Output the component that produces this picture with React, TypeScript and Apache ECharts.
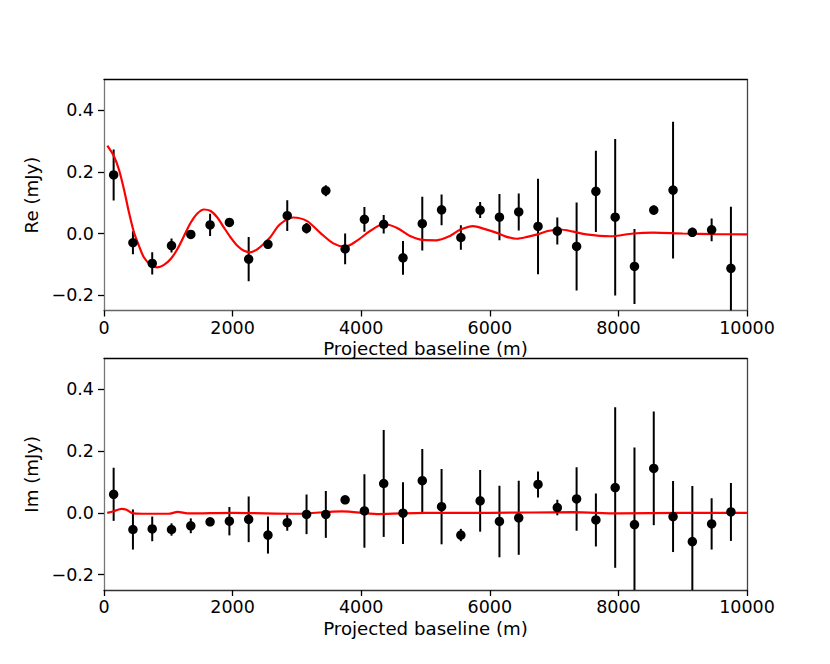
import React, { useEffect, useRef } from "react";
import * as echarts from "echarts";

const baselines = [150, 450, 750, 1050, 1350, 1650, 1950, 2250, 2550, 2850, 3150, 3450, 3750, 4050, 4350, 4650, 4950, 5250, 5550, 5850, 6150, 6450, 6750, 7050, 7350, 7650, 7950, 8250, 8550, 8850, 9150, 9450, 9750];

const reValues = [0.19, -0.030, -0.097, -0.039, -0.003, 0.028, 0.036, -0.083, -0.035, 0.058, 0.017, 0.139, -0.050, 0.046, 0.030, -0.079, 0.032, 0.077, -0.013, 0.076, 0.053, 0.070, 0.023, 0.008, -0.042, 0.137, 0.053, -0.107, 0.076, 0.141, 0.004, 0.012, -0.113];
const reErrors = [0.083, 0.037, 0.036, 0.023, 0.01, 0.036, 0.01, 0.072, 0.01, 0.05, 0.017, 0.018, 0.05, 0.04, 0.03, 0.055, 0.087, 0.05, 0.04, 0.026, 0.075, 0.06, 0.155, 0.044, 0.143, 0.132, 0.254, 0.122, 0.015, 0.222, 0.015, 0.037, 0.2];

const imValues = [0.060, -0.054, -0.052, -0.054, -0.042, -0.029, -0.027, -0.021, -0.072, -0.032, -0.005, -0.005, 0.042, 0.006, 0.095, -0.001, 0.104, 0.020, -0.072, 0.039, -0.028, -0.016, 0.092, 0.017, 0.045, -0.023, 0.082, -0.038, 0.144, -0.012, -0.093, -0.036, 0.003];
const imErrors = [0.086, 0.065, 0.04, 0.02, 0.024, 0.008, 0.046, 0.074, 0.06, 0.026, 0.064, 0.076, 0.008, 0.119, 0.173, 0.1, 0.103, 0.122, 0.02, 0.1, 0.116, 0.12, 0.042, 0.025, 0.103, 0.086, 0.26, 0.25, 0.184, 0.115, 0.18, 0.083, 0.094];

const reModelX = [52, 156, 233, 311, 389, 467, 544, 622, 726, 829, 933, 1037, 1140, 1244, 1348, 1452, 1555, 1659, 1763, 1866, 1970, 2074, 2177, 2281, 2385, 2478, 2582, 2737, 2944, 3152, 3359, 3566, 3748, 3930, 4137, 4344, 4551, 4759, 4966, 5173, 5381, 5536, 5740, 5900, 6110, 6250, 6420, 6600, 6740, 6900, 7090, 7300, 7500, 7870, 8230, 8540, 9000, 9500, 10000];
const reModelY = [0.285, 0.250, 0.207, 0.143, 0.068, 0.003, -0.040, -0.078, -0.102, -0.110, -0.102, -0.083, -0.051, -0.008, 0.035, 0.065, 0.078, 0.073, 0.052, 0.019, -0.013, -0.040, -0.056, -0.061, -0.051, -0.035, -0.013, 0.030, 0.052, 0.041, 0.003, -0.032, -0.043, -0.024, 0.008, 0.030, 0.019, -0.008, -0.021, -0.022, -0.008, 0.012, 0.024, 0.016, 0.002, -0.010, -0.017, -0.010, -0.003, 0.008, 0.013, 0.006, -0.003, -0.009, 0.0, 0.003, 0.0, -0.002, -0.003];

const imModelX = [50, 150, 275, 350, 430, 600, 1000, 1150, 1300, 2000, 3000, 3700, 4250, 5000, 6000, 7300, 8000, 9000, 10000];
const imModelY = [0.0, 0.005, 0.013, 0.01, 0.0, -0.003, -0.003, 0.003, -0.002, 0.0, -0.003, 0.005, -0.004, 0.0, 0.0, 0.002, -0.002, 0.0, 0.0];

const xTicks = [0, 2000, 4000, 6000, 8000, 10000];
const yTicks = [-0.2, 0, 0.2, 0.4];

const FONT = "DejaVu Sans";
const FS = 17.5;
const FS_NAME = 18.2;

function fmtY(v: number) {
  const s = Math.abs(v).toFixed(1);
  return v < -1e-9 ? "\u2212" + s : s;
}

export default function App() {
  const ref = useRef<HTMLDivElement>(null);
  useEffect(() => {
    document.body.style.margin = "0";
    const chart = echarts.init(ref.current!, undefined, { renderer: "svg" });
    const grids = [
      { left: 104, top: 79.5, width: 643, height: 231 },
      { left: 104, top: 358.5, width: 643, height: 231.5 },
    ];
    const xAxes: any[] = [];
    const yAxes: any[] = [];
    [0, 1].forEach((g) => {
      xAxes.push({
        type: "value", gridIndex: g, min: 0, max: 10000, position: "bottom",
        name: "Projected baseline (m)", nameLocation: "middle", nameGap: 29,
        nameTextStyle: { fontFamily: FONT, fontSize: FS_NAME, color: "#000" },
        axisLine: { show: true, onZero: false, lineStyle: { color: g === 0 ? "#666" : "#333", width: 1.3 } },
        axisTick: { show: true, length: 6, lineStyle: { color: "#000", width: 1.3 }, customValues: xTicks },
        axisLabel: { fontFamily: FONT, fontSize: FS, color: "#000", margin: 8, customValues: xTicks, formatter: (v: number) => String(v) },
        splitLine: { show: false },
      });
      xAxes.push({
        type: "value", gridIndex: g, min: 0, max: 10000, position: "top",
        axisLine: { show: true, onZero: false, lineStyle: { color: "#000", width: 1.3 } },
        axisTick: { show: false }, axisLabel: { show: false }, splitLine: { show: false },
      });
      yAxes.push({
        type: "value", gridIndex: g, min: -0.25, max: 0.5, position: "left",
        name: g === 0 ? "Re (mJy)" : "Im (mJy)", nameLocation: "middle", nameGap: 53,
        nameTextStyle: { fontFamily: FONT, fontSize: FS_NAME, color: "#000" },
        axisLine: { show: true, onZero: false, lineStyle: { color: "#777", width: 1.3 } },
        axisTick: { show: true, length: 6, lineStyle: { color: "#000", width: 1.3 }, customValues: yTicks },
        axisLabel: { fontFamily: FONT, fontSize: FS, color: "#000", margin: 10, customValues: yTicks, formatter: fmtY },
        splitLine: { show: false },
      });
      yAxes.push({
        type: "value", gridIndex: g, min: -0.25, max: 0.5, position: "right",
        axisLine: { show: true, onZero: false, lineStyle: { color: "#444", width: 1.3 } },
        axisTick: { show: false }, axisLabel: { show: false }, splitLine: { show: false },
      });
    });

    const errRender = (params: any, api: any) => {
      const x = api.value(0), y = api.value(1), e = api.value(2);
      const p1 = api.coord([x, y - e]);
      const p2 = api.coord([x, y + e]);
      return {
        type: "line",
        shape: { x1: p1[0], y1: p1[1], x2: p2[0], y2: p2[1] },
        style: { stroke: "#000", lineWidth: 2 },
      };
    };

    const sets = [
      { v: reValues, e: reErrors, mx: reModelX, my: reModelY },
      { v: imValues, e: imErrors, mx: imModelX, my: imModelY },
    ];
    const series: any[] = [];
    sets.forEach((s, g) => {
      const xi = g * 2, yi = g * 2;
      series.push({
        type: "custom", xAxisIndex: xi, yAxisIndex: yi, clip: true, z: 1,
        renderItem: errRender, encode: { x: 0, y: 1 },
        data: baselines.map((b, i) => [b, s.v[i], s.e[i]]),
      });
      series.push({
        type: "line", xAxisIndex: xi, yAxisIndex: yi, z: 2, smooth: 0.3, showSymbol: false, clip: true,
        lineStyle: { color: "#ff0000", width: 2.2 },
        data: s.mx.map((x, i) => [x, s.my[i]]),
      });
      series.push({
        type: "scatter", xAxisIndex: xi, yAxisIndex: yi, z: 3, symbol: "circle", symbolSize: 9.5,
        itemStyle: { color: "#000", opacity: 1 },
        data: baselines.map((b, i) => [b, s.v[i]]),
      });
    });

    chart.setOption({
      animation: false,
      backgroundColor: "#fff",
      grid: grids,
      xAxis: xAxes,
      yAxis: yAxes,
      series,
    });
    return () => chart.dispose();
  }, []);
  return <div ref={ref} style={{ width: 830, height: 664 }} />;
}
